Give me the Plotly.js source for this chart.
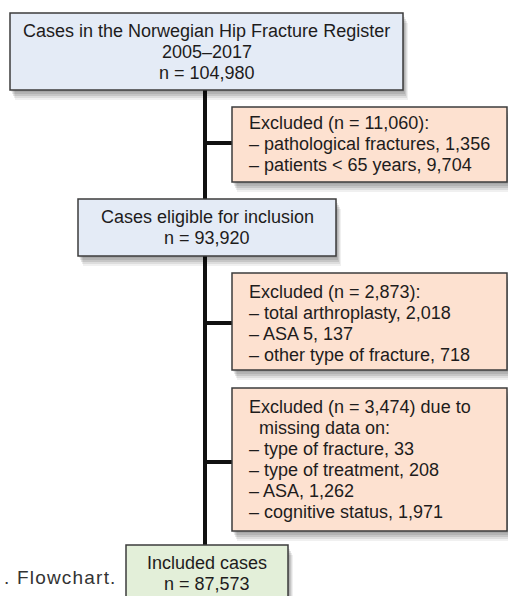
<!DOCTYPE html>
<html>
<head>
<meta charset="utf-8">
<script src="https://cdn.plot.ly/plotly-3.0.1.min.js"></script>
<style>html,body{margin:0;padding:0;background:#fff;}#chart{width:508px;height:596px;}</style>
</head>
<body>
<div id="chart"></div>
<script>
// ---- data ----
const stageLabels = [
  ["Cases in the Norwegian Hip Fracture Register", "2005–2017"],
  ["Cases eligible for inclusion"],
  ["Included cases"]
];
const stageCounts = ["104,980", "93,920", "87,573"];
const exclusionHeaders = [
  ["Excluded (n = 11,060):"],
  ["Excluded (n = 2,873):"],
  ["Excluded (n = 3,474) due to", "\u00a0\u00a0missing data on:"]
];
const exclusionItems = [
  ["pathological fractures, 1,356", "patients < 65 years, 9,704"],
  ["total arthroplasty, 2,018", "ASA 5, 137", "other type of fracture, 718"],
  ["type of fracture, 33", "type of treatment, 208", "ASA, 1,262", "cognitive status, 1,971"]
];
const captionText = ". Flowchart.";

// ---- layout geometry ----
const stageBoxes = [
  {x0: 10, x1: 403, y0: 13, y1: 90, fill: "#e4ebf6", firstLine: 31},
  {x0: 78, x1: 336, y0: 199, y1: 256, fill: "#e4ebf6", firstLine: 217},
  {x0: 126, x1: 288, y0: 545, y1: 610, fill: "#e3efd9", firstLine: 563}
];
const exclBoxes = [
  {x0: 232, x1: 507, y0: 107, y1: 182, firstLine: 123, connY: 143},
  {x0: 232, x1: 507, y0: 273, y1: 370, firstLine: 292, connY: 323},
  {x0: 232, x1: 507, y0: 388, y1: 531, firstLine: 407, connY: 462}
];
const exclFill = "#fde1d0";
const lineGap = 20.9;
const spineX = 205;
const textFont = {family: "Liberation Sans, Arial, sans-serif", size: 18, color: "#1e1c1c"};
const borderColor = "#3c3c3c";

const shapes = [];
const annotations = [];

function shadow(b) {
  const layers = [[1, 2, 0.07], [2, 4, 0.09], [3, 6, 0.1], [4, 8, 0.08], [5, 10, 0.06]];
  layers.forEach(([dx, dy, op]) => {
    shapes.push({type: "rect", xref: "x", yref: "y", x0: b.x0 + dx, x1: b.x1 + dx, y0: b.y0 + dy, y1: b.y1 + dy,
      fillcolor: "rgba(0,0,0," + op + ")", line: {width: 0}});
  });
}

// spine and connectors
shapes.push({type: "line", xref: "x", yref: "y", x0: spineX, x1: spineX, y0: stageBoxes[0].y1, y1: stageBoxes[2].y0,
  line: {color: "#111", width: 4}});
exclBoxes.forEach(b => {
  shapes.push({type: "line", xref: "x", yref: "y", x0: spineX, x1: b.x0, y0: b.connY, y1: b.connY,
    line: {color: "#111", width: 4}});
});

// stage boxes
stageBoxes.forEach((b, i) => {
  shadow(b);
  shapes.push({type: "rect", xref: "x", yref: "y", x0: b.x0, x1: b.x1, y0: b.y0, y1: b.y1,
    fillcolor: b.fill, line: {color: borderColor, width: 1.5}});
  const lines = stageLabels[i].concat(["n = " + stageCounts[i]]);
  const cx = (b.x0 + b.x1) / 2;
  lines.forEach((t, j) => {
    annotations.push({xref: "x", yref: "y", x: cx, y: b.firstLine + j * lineGap, text: t, showarrow: false,
      xanchor: "center", yanchor: "middle", font: textFont});
  });
});

// exclusion boxes
exclBoxes.forEach((b, i) => {
  shadow(b);
  shapes.push({type: "rect", xref: "x", yref: "y", x0: b.x0, x1: b.x1, y0: b.y0, y1: b.y1,
    fillcolor: exclFill, line: {color: borderColor, width: 1.5}});
  const lines = exclusionHeaders[i].concat(exclusionItems[i].map(s => "– " + s));
  lines.forEach((t, j) => {
    annotations.push({xref: "x", yref: "y", x: b.x0 + 15, y: b.firstLine + j * lineGap, text: t, showarrow: false,
      xanchor: "left", yanchor: "middle", align: "left", font: textFont});
  });
});

// caption
annotations.push({xref: "x", yref: "y", x: 119, y: 577, text: '<span style="letter-spacing:1.2px">' + captionText + '</span>',
  showarrow: false, xanchor: "right", yanchor: "middle",
  font: {family: "Liberation Sans, Arial, sans-serif", size: 19, color: "#333"}});

const layout = {
  width: 508, height: 596,
  margin: {l: 0, r: 0, t: 0, b: 0},
  paper_bgcolor: "#fff", plot_bgcolor: "#fff",
  xaxis: {range: [0, 508], visible: false, fixedrange: true},
  yaxis: {range: [596, 0], visible: false, fixedrange: true},
  shapes: shapes,
  annotations: annotations,
  showlegend: false
};
Plotly.newPlot("chart", [], layout, {displayModeBar: false, staticPlot: true});
</script>
</body>
</html>
